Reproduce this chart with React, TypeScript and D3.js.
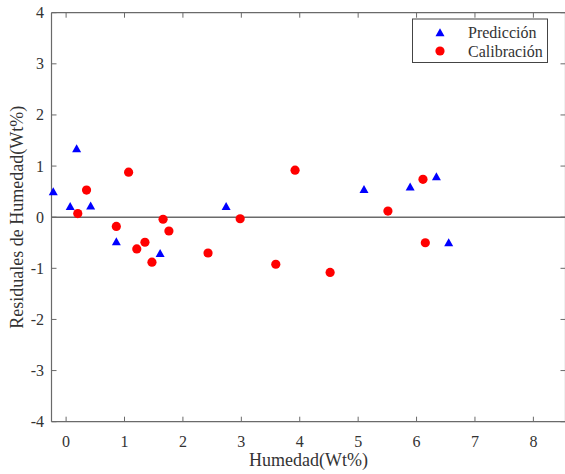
import React from "react";
import * as d3 from "d3";

// Residuals of moisture content: prediction set (triangles) and calibration set (circles)
const predX = [-0.22, 0.07, 0.18, 0.42, 0.86, 1.61, 2.74, 5.1, 5.89, 6.34, 6.55];
const predY = [0.51, 0.22, 1.35, 0.23, -0.47, -0.7, 0.22, 0.55, 0.6, 0.8, -0.49];

const calX = [0.2, 0.35, 0.86, 1.07, 1.21, 1.35, 1.47, 1.66, 1.76, 2.43, 2.98, 3.59, 3.92, 4.52, 5.51, 6.11, 6.15];
const calY = [0.07, 0.53, -0.18, 0.88, -0.62, -0.49, -0.88, -0.04, -0.27, -0.7, -0.03, -0.92, 0.92, -1.08, 0.12, 0.74, -0.5];

const xTicks = [0, 1, 2, 3, 4, 5, 6, 7, 8];
const yTicks = [-4, -3, -2, -1, 0, 1, 2, 3, 4];

const seriesNames = ["Predicción", "Calibración"];
const xLabel = "Humedad(Wt%)";
const yLabel = "Residuales de Humedad(Wt%)";

const W = 565;
const H = 474;
const left = 51.5;
const right = 565.5;
const top = 12.7;
const bottom = 421.7;

const BLUE = "#0000ff";
const RED = "#ff0000";
const AXIS = "#6a6a6a";
const TEXT = "#333333";
const FONT = "'Liberation Serif', 'Times New Roman', serif";

const tri = (cx: number, cy: number, w = 9, h = 8) =>
  `M${cx},${cy - h / 2}L${cx + w / 2},${cy + h / 2}L${cx - w / 2},${cy + h / 2}Z`;

export default function App() {
  const x = d3.scaleLinear().domain([-0.25, 8.55]).range([left, right]);
  const y = d3.scaleLinear().domain([-4, 4]).range([bottom, top]);
  const tl = 5;

  return (
    <svg
      width={W}
      height={H}
      style={{ position: "absolute", left: 0, top: 0, background: "#fff" }}
      fontFamily={FONT}
    >
      {/* frame */}
      <line x1={left} x2={right} y1={bottom} y2={bottom} stroke={AXIS} strokeWidth={1.2} />
      <line x1={left} x2={right} y1={top} y2={top} stroke={AXIS} strokeWidth={1.2} />
      <line x1={left} x2={left} y1={top} y2={bottom} stroke={AXIS} strokeWidth={1.2} />
      <line x1={right} x2={right} y1={top} y2={bottom} stroke={AXIS} strokeWidth={1.2} />

      {/* x ticks */}
      {xTicks.map((t) => (
        <g key={`xt${t}`}>
          <line x1={x(t)} x2={x(t)} y1={bottom} y2={bottom - tl} stroke={AXIS} />
          <line x1={x(t)} x2={x(t)} y1={top} y2={top + tl} stroke={AXIS} />
          <text x={x(t)} y={446.5} textAnchor="middle" fontSize={16} fill={TEXT}>
            {t}
          </text>
        </g>
      ))}

      {/* y ticks */}
      {yTicks.map((t) => (
        <g key={`yt${t}`}>
          <line x1={left} x2={left + tl} y1={y(t)} y2={y(t)} stroke={AXIS} />
          <line x1={right} x2={right - tl} y1={y(t)} y2={y(t)} stroke={AXIS} />
          <text x={44} y={y(t) + 5.5} textAnchor="end" fontSize={16} fill={TEXT}>
            {t}
          </text>
        </g>
      ))}

      {/* zero reference line */}
      <line x1={left} x2={right} y1={y(0)} y2={y(0)} stroke={AXIS} strokeWidth={1.5} />

      {/* calibration points */}
      {calX.map((v, i) => (
        <circle key={`c${i}`} cx={x(v)} cy={y(calY[i])} r={4.6} fill={RED} />
      ))}

      {/* prediction points */}
      {predX.map((v, i) => (
        <path key={`p${i}`} d={tri(x(v), y(predY[i]))} fill={BLUE} />
      ))}

      {/* axis labels */}
      <text x={(left + right) / 2} y={466} textAnchor="middle" fontSize={18} fill={TEXT}>
        {xLabel}
      </text>
      <text
        transform={`translate(23,${(top + bottom) / 2}) rotate(-90)`}
        textAnchor="middle"
        fontSize={18}
        fill={TEXT}
      >
        {yLabel}
      </text>

      {/* legend */}
      <g>
        <rect x={412.5} y={19} width={135} height={43.5} fill="#fff" stroke="#444" strokeWidth={1} />
        <path d={tri(440, 32.3)} fill={BLUE} />
        <circle cx={440} cy={51} r={4.6} fill={RED} />
        <text x={468} y={37.5} fontSize={16} fill={TEXT}>
          {seriesNames[0]}
        </text>
        <text x={468} y={56.5} fontSize={16} fill={TEXT}>
          {seriesNames[1]}
        </text>
      </g>
    </svg>
  );
}
